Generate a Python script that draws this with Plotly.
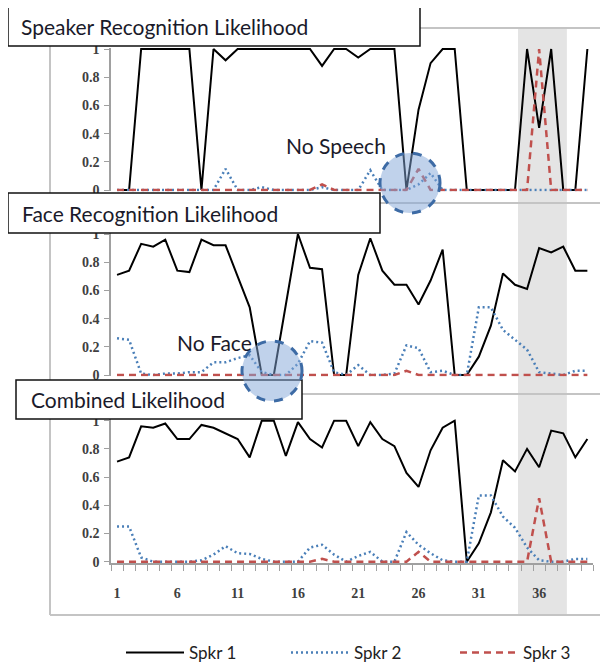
import plotly.graph_objects as go

# the page has the browser's default 8px body margin; positions below are window pixels
OFF = 8
W, H = 608 - OFF, 664 - OFF

frames = list(range(1, 41))
tick_vals = [1, 6, 11, 16, 21, 26, 31, 36]
tick_labels = ["1", "6", "11", "16", "21", "26", "31", "36"]
y_ticks = [0, 0.2, 0.4, 0.6, 0.8, 1]
y_tick_labels = ["0", "0.2", "0.4", "0.6", "0.8", "1"]
series_names = ["Spkr 1", "Spkr 2", "Spkr 3"]
panel_titles = ["Speaker Recognition Likelihood", "Face Recognition Likelihood", "Combined Likelihood"]

speech_spkr1 = [0, 0, 1, 1, 1, 1, 1, 0, 1, 0.92, 1, 1, 1, 1, 1, 1, 1, 0.88, 1, 1,
                0.94, 1, 1, 1, 0, 0.57, 0.9, 1, 1, 0, 0, 0, 0, 0, 1, 0.44, 1, 0, 0, 1]
speech_spkr2 = [0, 0, 0, 0, 0, 0, 0, 0, 0, 0.15, 0, 0, 0.02, 0, 0, 0, 0, 0.02, 0, 0,
                0, 0.14, 0, 0, 0, 0.04, 0.12, 0, 0, 0, 0, 0, 0, 0, 0, 0, 0, 0, 0, 0]
speech_spkr3 = [0, 0, 0, 0, 0, 0, 0, 0, 0, 0, 0, 0, 0, 0, 0, 0, 0, 0.04, 0, 0,
                0, 0, 0, 0, 0, 0.15, 0, 0, 0, 0, 0, 0, 0, 0, 0, 1, 0, 0, 0, 0]

face_spkr1 = [0.71, 0.74, 0.93, 0.91, 0.96, 0.74, 0.73, 0.96, 0.92, 0.92, 0.7, 0.48, 0, 0, 0.5, 1, 0.76, 0.75, 0, 0,
              0.71, 0.97, 0.74, 0.64, 0.64, 0.5, 0.67, 0.89, 0, 0, 0.13, 0.35, 0.72, 0.64, 0.61, 0.9, 0.87, 0.91, 0.74, 0.74]
face_spkr2 = [0.26, 0.25, 0.01, 0, 0.01, 0.01, 0.02, 0.02, 0.09, 0.09, 0.12, 0.14, 0.02, 0, 0, 0.08, 0.24, 0.23, 0.02, 0,
              0.07, 0, 0, 0.01, 0.21, 0.19, 0.02, 0.03, 0, 0, 0.48, 0.48, 0.32, 0.25, 0.18, 0.02, 0.01, 0, 0.03, 0.03]
face_spkr3 = [0, 0, 0, 0, 0, 0, 0, 0, 0, 0, 0, 0, 0, 0, 0, 0, 0, 0, 0, 0,
              0, 0, 0, 0, 0.03, 0, 0, 0, 0, 0, 0, 0, 0, 0, 0, 0, 0, 0, 0, 0]

comb_spkr1 = [0.71, 0.74, 0.96, 0.95, 0.98, 0.87, 0.87, 0.97, 0.95, 0.91, 0.87, 0.74, 1, 1, 0.75, 0.99, 0.87, 0.81, 1, 1,
              0.82, 0.99, 0.87, 0.82, 0.63, 0.53, 0.79, 0.95, 1, 0, 0.13, 0.35, 0.72, 0.64, 0.8, 0.67, 0.93, 0.91, 0.74, 0.87]
comb_spkr2 = [0.25, 0.25, 0.03, 0, 0, 0, 0, 0.01, 0.05, 0.11, 0.06, 0.055, 0.02, 0, 0, 0, 0.1, 0.12, 0.05, 0,
              0.04, 0.07, 0, 0, 0.21, 0.12, 0.06, 0.01, 0, 0, 0.47, 0.47, 0.32, 0.24, 0.1, 0.01, 0, 0, 0.02, 0.02]
comb_spkr3 = [0, 0, 0, 0, 0, 0, 0, 0, 0, 0, 0, 0, 0, 0, 0, 0, 0, 0.02, 0, 0,
              0, 0, 0, 0, 0, 0.07, 0, 0, 0, 0, 0, 0, 0, 0, 0, 0.45, 0, 0, 0, 0]

panels = [
    [speech_spkr1, speech_spkr2, speech_spkr3],
    [face_spkr1, face_spkr2, face_spkr3],
    [comb_spkr1, comb_spkr2, comb_spkr3],
]
highlight_band = [34.25, 38.3]


def PX(px):
    return (px - OFF) / W


def PY(py):
    return 1 - (py - OFF) / H


line_styles = [
    dict(color="#000000", width=2, dash="solid"),
    dict(color="#4a7fb8", width=2.5, dash="2px,3px"),
    dict(color="#c0504d", width=2.5, dash="7px,5px"),
]

# plot area pixel geometry (value 0 row and value 1 row), in window pixels
x_left, x_right = 111, 593.4
panel_px = [(190, 49), (375, 234), (561.7, 420.7)]
yr = [-0.01, 1.01]

fig = go.Figure()
layout = dict(
    width=W, height=H,
    margin=dict(l=0, r=0, t=0, b=0, autoexpand=False),
    paper_bgcolor="white",
    plot_bgcolor="rgba(0,0,0,0)",
    showlegend=True,
)

legend_keys = ["legend", "legend2", "legend3"]
for p, series in enumerate(panels):
    sfx = "" if p == 0 else str(p + 1)
    for s, vals in enumerate(series):
        fig.add_trace(go.Scatter(
            x=frames, y=vals, mode="lines", name=series_names[s],
            line=line_styles[s], xaxis="x" + sfx, yaxis="y" + sfx,
            showlegend=(p == 2), legend=legend_keys[s], hoverinfo="skip",
        ))
    y0px, y1px = panel_px[p]
    per = (y0px - y1px)
    bot = y0px - yr[0] * per
    top = y0px - yr[1] * per
    xa = dict(
        domain=[PX(x_left), PX(x_right)], range=[0.5, 40.5],
        anchor="y" + sfx, showgrid=False, zeroline=False, automargin=False,
    )
    if p == 2:
        xa.update(showline=True, linecolor="#a0a0a0", linewidth=1.5,
                  tickvals=tick_vals, ticktext=tick_labels, ticks="",
                  ticklabelstandoff=16,
                  tickfont=dict(family="Liberation Serif", size=14, color="#404040", weight="bold"),
                  minor=dict(tick0=0.5, dtick=1, ticks="outside", ticklen=6,
                             tickcolor="#a0a0a0", tickwidth=1.2, showgrid=False))
    else:
        xa.update(showline=False, showticklabels=False, ticks="")
    ya = dict(
        domain=[PY(bot), PY(top)], range=yr, anchor="x" + sfx,
        showgrid=False, zeroline=False, automargin=False,
        showline=True, linecolor="#a0a0a0", linewidth=1.5,
        ticks="outside", ticklen=5, tickcolor="#a0a0a0", tickwidth=1.2,
        tickvals=y_ticks, ticktext=y_tick_labels, ticklabelstandoff=2,
        tickfont=dict(family="Liberation Serif", size=14, color="#404040", weight="bold"),
    )
    layout["xaxis" + sfx] = xa
    layout["yaxis" + sfx] = ya

shapes = []
# gray highlight band
shapes.append(dict(type="rect", xref="x3", yref="paper", x0=highlight_band[0], x1=highlight_band[1],
                   y0=PY(615), y1=PY(28), fillcolor="#e4e4e4", line=dict(width=0), layer="below"))
# chart frames
frame_col = "#c4c4c4"
shapes.append(dict(type="line", xref="paper", yref="paper", x0=PX(50), x1=PX(50), y0=PY(28), y1=PY(615),
                   line=dict(color=frame_col, width=2), layer="below"))
for fy in [28, 203, 394, 615]:
    shapes.append(dict(type="line", xref="paper", yref="paper", x0=PX(50), x1=PX(610), y0=PY(fy), y1=PY(fy),
                       line=dict(color=frame_col, width=2), layer="below"))
# title boxes
boxes = [(8, 420, 7, 46), (8, 380, 193, 233), (16, 302, 380, 419)]
for (bx0, bx1, by0, by1) in boxes:
    shapes.append(dict(type="rect", xref="paper", yref="paper", x0=PX(bx0), x1=PX(bx1),
                       y0=PY(by1), y1=PY(by0), fillcolor="white",
                       line=dict(color="#111111", width=1.5), layer="above"))
# highlight circles
for (cx, cy, r) in [(410, 183, 30), (272, 371, 30)]:
    shapes.append(dict(type="circle", xref="paper", yref="paper", x0=PX(cx - r), x1=PX(cx + r),
                       y0=PY(cy + r), y1=PY(cy - r), fillcolor="rgba(130,165,215,0.5)",
                       line=dict(color="#3d6ba5", width=3, dash="dash"), layer="above"))
layout["shapes"] = shapes

title_pos = [(19, 27), (20, 213), (29, 399)]
annotations = []
for t, (tx, ty) in zip(panel_titles, title_pos):
    annotations.append(dict(text=t, xref="paper", yref="paper", x=PX(tx), y=PY(ty),
                            xanchor="left", yanchor="middle", showarrow=False,
                            font=dict(family="Lato", size=21, color="#1a1a2a")))
annotations.append(dict(text="No Speech", xref="paper", yref="paper", x=PX(284), y=PY(145),
                        xanchor="left", yanchor="middle", showarrow=False,
                        font=dict(family="Lato", size=21, color="#1a1a2a")))
annotations.append(dict(text="No Face", xref="paper", yref="paper", x=PX(175), y=PY(342),
                        xanchor="left", yanchor="middle", showarrow=False,
                        font=dict(family="Lato", size=21, color="#1a1a2a")))
layout["annotations"] = annotations

legend_x = [121, 286, 455]
for key, lx in zip(legend_keys, legend_x):
    layout[key] = dict(orientation="h", x=PX(lx), y=PY(653), xanchor="left", yanchor="middle",
                       font=dict(family="Lato", size=17, color="#222222"),
                       itemwidth=58, bgcolor="rgba(0,0,0,0)", borderwidth=0)

fig.update_layout(**layout)
fig.write_html("out.html")
